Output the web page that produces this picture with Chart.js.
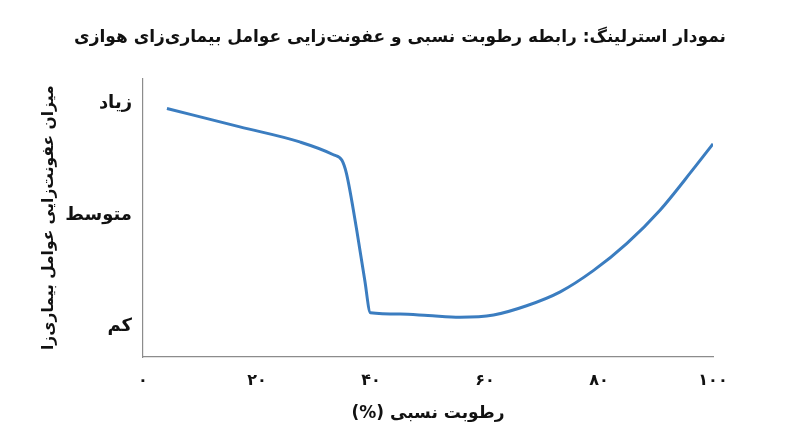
<!DOCTYPE html>
<html lang="fa">
<head>
<meta charset="utf-8">
<title>نمودار استرلینگ</title>
<script src="https://cdn.jsdelivr.net/npm/chart.js@4.4.1/dist/chart.umd.min.js"></script>
<style>
  html, body { margin: 0; padding: 0; background: #fff; }
  #wrap { width: 800px; height: 447px; }
</style>
</head>
<body>
<div id="wrap"><canvas id="sterling-chart" dir="rtl"></canvas></div>
<script>
// Sterling chart data
const humidity = [4.2, 17.0, 27.5, 33.4, 34.9, 35.7, 37.5, 38.9, 39.9, 45.1, 50.0, 55.6, 61.5, 67.3, 73.2, 79.0, 84.9, 90.7, 96.6, 100];
const infectivity = [8.82, 8.16, 7.62, 7.16, 6.96, 6.48, 4.45, 2.66, 1.49, 1.44, 1.39, 1.33, 1.41, 1.74, 2.24, 3.00, 3.98, 5.17, 6.66, 7.55];

const xTickValues = [0, 20, 40, 60, 80, 100];
const xTickLabels = ['۰', '۲۰', '۴۰', '۶۰', '۸۰', '۱۰۰'];
const yTickValues = [1, 5, 9];
const yTickLabels = ['کم', 'متوسط', 'زیاد'];

const chartTitle = 'نمودار استرلینگ: رابطه رطوبت نسبی و عفونت‌زایی عوامل بیماری‌زای هوازی';
const xTitle = 'رطوبت نسبی (%)';
const yTitle = 'میزان عفونت‌زایی عوامل بیماری‌زا';

const FONT = "'DejaVu Sans', sans-serif";

const points = humidity.map((h, i) => ({ x: h, y: infectivity[i] }));

const ctx = document.getElementById('sterling-chart').getContext('2d');
const chart = new Chart(ctx, {
  type: 'line',
  data: {
    datasets: [{
      data: points,
      borderColor: '#3b7dc0',
      borderWidth: 3,
      pointRadius: 0,
      fill: false,
      cubicInterpolationMode: 'monotone'
    }]
  },
  options: {
    responsive: true,
    maintainAspectRatio: false,
    animation: false,
    layout: { padding: 0 },
    plugins: {
      legend: { display: false },
      tooltip: { enabled: false },
      title: {
        display: true,
        text: chartTitle,
        color: '#111',
        font: { family: FONT, size: 17, weight: 'bold' },
        padding: { top: 27, bottom: 31 }
      }
    },
    scales: {
      x: {
        type: 'linear',
        min: 0,
        max: 100,
        grid: { display: false, drawTicks: false },
        border: { display: true, color: '#8c8c8c', width: 1.2 },
        afterBuildTicks: scale => { scale.ticks = xTickValues.map(v => ({ value: v })); },
        afterFit: scale => { scale.height = 90; },
        ticks: {
          padding: 14,
          color: '#111',
          font: { family: FONT, size: 16, weight: 'bold' },
          callback: value => xTickLabels[xTickValues.indexOf(value)]
        },
        title: {
          display: true,
          text: xTitle,
          color: '#111',
          font: { family: FONT, size: 17, weight: 'bold' },
          padding: { top: 0, bottom: 23 }
        }
      },
      y: {
        min: -0.1,
        max: 9.9,
        grid: { display: false, drawTicks: false },
        border: { display: true, color: '#8c8c8c', width: 1.2 },
        afterBuildTicks: scale => { scale.ticks = yTickValues.map(v => ({ value: v })); },
        afterFit: scale => { scale.width = 143; },
        ticks: {
          padding: 11,
          color: '#111',
          font: { family: FONT, size: 18, weight: 'bold' },
          callback: value => yTickLabels[yTickValues.indexOf(value)]
        },
        title: {
          display: true,
          text: yTitle,
          color: '#111',
          font: { family: FONT, size: 15.5, weight: 'bold' },
          padding: { top: 40, bottom: 0 }
        }
      },
      // empty right-hand gutter so the title stays centred on the page
      gutter: {
        type: 'linear',
        position: 'right',
        grid: { display: false, drawTicks: false },
        border: { display: false },
        ticks: { display: false },
        afterFit: scale => { scale.width = 87; }
      }
    }
  }
});
</script>
</body>
</html>
